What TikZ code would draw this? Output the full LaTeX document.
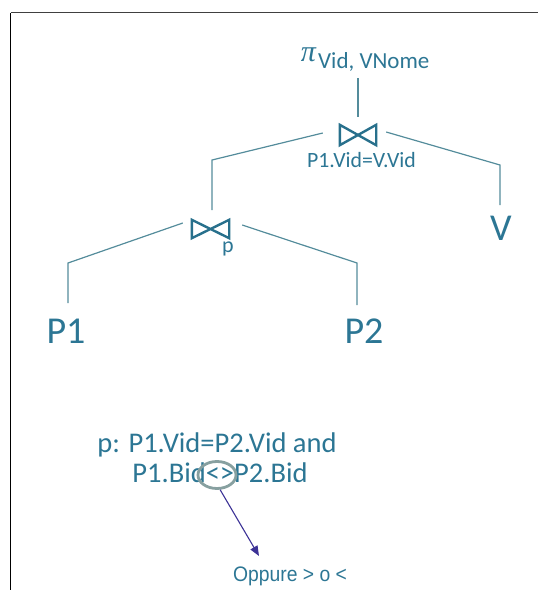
\documentclass[tikz,border=0pt]{standalone}
\usepackage{fontspec}
\setmainfont{Carlito}
\newfontfamily\narrowfont{Liberation Sans}
\newfontfamily\greekfont{Liberation Serif}
\usetikzlibrary{arrows.meta,shapes.geometric}
\definecolor{txt}{RGB}{44,118,148}
\definecolor{edge}{RGB}{84,140,155}
\definecolor{bow}{RGB}{40,112,140}
\definecolor{ring}{RGB}{135,160,160}
\definecolor{arr}{RGB}{60,50,150}
\tikzset{
  lbl/.style={inner sep=0pt, text=txt},
  treeedge/.style={draw=edge, line width=1.2pt},
  joinbox/.style={inner sep=0pt, minimum width=36pt, minimum height=20pt},
  bowline/.style={draw=bow, line width=2.4pt, line join=miter},
}
\begin{document}
\begin{tikzpicture}[x=1pt,y=-1pt]
\useasboundingbox (0,0) rectangle (538,590);
% frame
\draw[black!75, line width=1.4pt] (10.5,12.5) -- (538,12.5);
\draw[black, line width=1.4pt] (10.5,590) -- (10.5,12.5);

% projection
\node[lbl, anchor=base] (pi) at (308.5,61) {\greekfont\itshape\fontsize{30}{30}\selectfont π};
\node[lbl, anchor=base west] (proj) at (318,68) {\fontsize{23}{23}\selectfont Vid, VNome};

% top join
\node[joinbox] (j1) at (358,135) {};
\draw[bowline] (j1.north west) -- (j1.south east) -- (j1.north east) -- (j1.south west) -- cycle;
\node[lbl, anchor=base] (c1) at (361.5,167) {\fontsize{21.8}{21.8}\selectfont P1.Vid=V.Vid};

% lower join
\node[joinbox, minimum width=37pt, minimum height=18pt] (j2) at (210.5,229) {};
\draw[bowline] (j2.north west) -- (j2.south east) -- (j2.north east) -- (j2.south west) -- cycle;
\node[lbl, anchor=base] (c2) at (228,252) {\fontsize{22}{22}\selectfont p};

% leaves
\node[lbl, anchor=base] (v) at (501,240) {\fontsize{38}{38}\selectfont V};
\node[lbl, anchor=base] (p1) at (66,343) {\fontsize{38}{38}\selectfont P1};
\node[lbl, anchor=base] (p2) at (364,343) {\fontsize{38}{38}\selectfont P2};

% corners
\coordinate (k1) at (212,160);
\coordinate (k2) at (500,165);
\coordinate (k3) at (68,263);
\coordinate (k4) at (357,263);

% edges
\draw[treeedge] (358,78) -- (j1.north |- 0,117);
\draw[treeedge] ([xshift=-17pt,yshift=2pt]j1.west) -- (k1) -- (k1 |- 0,210);
\draw[treeedge] ([xshift=10pt,yshift=3pt]j1.east) -- (k2) -- (k2 |- 0,205);
\draw[treeedge] ([xshift=-9pt,yshift=6pt]j2.west) -- (k3) -- (k3 |- 0,303);
\draw[treeedge] ([xshift=13pt,yshift=4pt]j2.east) -- (k4) -- (k4 |- 0,305);

% predicate
\node[lbl, anchor=base] (l1) at (217,452) {\fontsize{28.5}{28.5}\selectfont p: P1.Vid=P2.Vid and};
\node[lbl, anchor=base] (l2) at (220,482) {\fontsize{28.5}{28.5}\selectfont P1.Bid<>P2.Bid};
\node[draw=ring, line width=2.8pt, ellipse, minimum width=38pt, minimum height=27pt, inner sep=0pt] (ell) at (217,475) {};

% note
\node[lbl, anchor=base] (opp) at (290,581) {\narrowfont\fontsize{21}{21}\selectfont\scalebox{0.92}[1]{Oppure > o <}};
\coordinate (tip) at (259,556);
\draw[draw=arr, line width=1.1pt, -{Triangle[length=10pt,width=8pt]}] (ell.-78) -- (tip);
\end{tikzpicture}
\end{document}
